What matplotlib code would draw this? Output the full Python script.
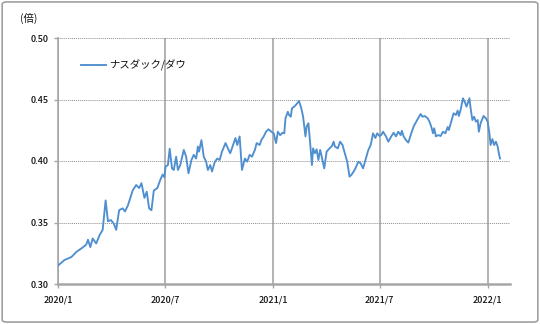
import matplotlib
matplotlib.use("Agg")
import matplotlib.pyplot as plt
from matplotlib.patches import FancyBboxPatch
import pandas as pd

plt.rcParams["font.family"] = ["Noto Sans CJK JP", "DejaVu Sans"]

SERIES_NAME = "ナスダック/ダウ"
UNIT_LABEL = "(倍)"

dates = [
    "2020-01-01", "2020-01-12", "2020-01-24", "2020-02-01", "2020-02-10", "2020-02-18",
    "2020-02-21", "2020-02-25", "2020-02-29", "2020-03-06", "2020-03-12", "2020-03-17",
    "2020-03-22", "2020-03-26", "2020-03-31", "2020-04-05", "2020-04-09", "2020-04-14",
    "2020-04-20", "2020-04-24", "2020-04-29", "2020-05-07", "2020-05-13", "2020-05-18",
    "2020-05-22", "2020-05-27", "2020-05-31", "2020-06-04", "2020-06-08", "2020-06-12",
    "2020-06-18", "2020-06-23", "2020-06-27", "2020-06-30", "2020-07-02", "2020-07-06",
    "2020-07-09", "2020-07-13", "2020-07-16", "2020-07-20", "2020-07-23", "2020-07-27",
    "2020-08-02", "2020-08-06", "2020-08-10", "2020-08-15", "2020-08-19", "2020-08-23",
    "2020-08-26", "2020-08-28", "2020-09-01", "2020-09-05", "2020-09-09", "2020-09-12",
    "2020-09-16", "2020-09-19", "2020-09-24", "2020-09-28", "2020-10-02", "2020-10-06",
    "2020-10-12", "2020-10-16", "2020-10-20", "2020-10-24", "2020-10-29", "2020-11-01",
    "2020-11-05", "2020-11-09", "2020-11-14", "2020-11-18", "2020-11-22", "2020-11-26",
    "2020-12-01", "2020-12-04", "2020-12-09", "2020-12-12", "2020-12-16", "2020-12-20",
    "2020-12-24", "2020-12-29", "2021-01-02", "2021-01-06", "2021-01-09", "2021-01-13",
    "2021-01-17", "2021-01-20", "2021-01-22", "2021-01-26", "2021-01-28", "2021-01-31",
    "2021-02-02", "2021-02-07", "2021-02-10", "2021-02-14", "2021-02-18", "2021-02-21",
    "2021-02-25", "2021-02-27", "2021-03-02", "2021-03-05", "2021-03-08", "2021-03-10",
    "2021-03-13", "2021-03-16", "2021-03-19", "2021-03-22", "2021-03-24", "2021-03-29",
    "2021-04-02", "2021-04-07", "2021-04-11", "2021-04-14", "2021-04-16", "2021-04-21",
    "2021-04-25", "2021-04-29", "2021-05-03", "2021-05-07", "2021-05-11", "2021-05-14",
    "2021-05-18", "2021-05-21", "2021-05-26", "2021-05-30", "2021-06-03", "2021-06-07",
    "2021-06-12", "2021-06-16", "2021-06-20", "2021-06-24", "2021-06-27", "2021-07-01",
    "2021-07-04", "2021-07-07", "2021-07-12", "2021-07-16", "2021-07-21", "2021-07-25",
    "2021-07-29", "2021-08-02", "2021-08-06", "2021-08-08", "2021-08-11", "2021-08-15",
    "2021-08-19", "2021-08-24", "2021-08-28", "2021-09-03", "2021-09-09", "2021-09-12",
    "2021-09-16", "2021-09-21", "2021-09-24", "2021-09-27", "2021-09-30", "2021-10-02",
    "2021-10-05", "2021-10-09", "2021-10-13", "2021-10-17", "2021-10-21", "2021-10-25",
    "2021-10-27", "2021-10-31", "2021-11-04", "2021-11-08", "2021-11-11", "2021-11-13",
    "2021-11-16", "2021-11-20", "2021-11-24", "2021-11-26", "2021-12-01", "2021-12-03",
    "2021-12-06", "2021-12-09", "2021-12-12", "2021-12-15", "2021-12-17", "2021-12-20",
    "2021-12-25", "2021-12-29", "2022-01-01", "2022-01-04", "2022-01-06", "2022-01-09",
    "2022-01-12", "2022-01-15", "2022-01-18", "2022-01-20", "2022-01-22",
]

ratio = [
    0.315, 0.3195, 0.322, 0.326, 0.329, 0.332,
    0.336, 0.330, 0.337, 0.333, 0.340, 0.344,
    0.368, 0.351, 0.352, 0.349, 0.344, 0.360,
    0.3615, 0.359, 0.364, 0.376, 0.3805, 0.378,
    0.382, 0.370, 0.375, 0.3615, 0.360, 0.376,
    0.378, 0.3846, 0.389, 0.3868, 0.3954, 0.3967,
    0.410, 0.394, 0.3927, 0.4035, 0.3927, 0.3967,
    0.409, 0.4035, 0.390, 0.4008, 0.405, 0.402,
    0.4118, 0.4076, 0.417, 0.4035, 0.3995, 0.3927,
    0.3967, 0.3915, 0.3995, 0.402, 0.4008, 0.4076,
    0.4146, 0.4103, 0.4063, 0.4118, 0.4187, 0.413,
    0.420, 0.3927, 0.402, 0.3995, 0.405, 0.4035,
    0.409, 0.4146, 0.413, 0.417, 0.420, 0.4238,
    0.4258, 0.4238, 0.4225, 0.4146, 0.4238, 0.421,
    0.423, 0.4225, 0.4347, 0.440, 0.4374, 0.436,
    0.4428, 0.4447, 0.4463, 0.4488, 0.4428, 0.436,
    0.420, 0.428, 0.4307, 0.4146, 0.3967, 0.4103,
    0.4063, 0.4095, 0.4008, 0.409, 0.405, 0.394,
    0.4076, 0.4103, 0.4122, 0.4157, 0.4118, 0.4103,
    0.4157, 0.413, 0.4063, 0.3995, 0.3873, 0.3886,
    0.3914, 0.394, 0.3995, 0.398, 0.394, 0.4008,
    0.409, 0.413, 0.4225, 0.4187, 0.4225, 0.4203,
    0.4211, 0.4238, 0.420, 0.4157, 0.420, 0.423,
    0.420, 0.4238, 0.421, 0.4246, 0.420, 0.417,
    0.415, 0.4225, 0.428, 0.4333, 0.4382, 0.436,
    0.4366, 0.4347, 0.432, 0.428, 0.4225, 0.4266,
    0.420, 0.4211, 0.4203, 0.4238, 0.4225, 0.4276,
    0.4252, 0.432, 0.4388, 0.4374, 0.441, 0.4366,
    0.4415, 0.451, 0.4469, 0.4442, 0.451, 0.4428,
    0.4333, 0.436, 0.432, 0.4333, 0.4238, 0.4307,
    0.4366, 0.4347, 0.432, 0.4225, 0.413, 0.4178,
    0.413, 0.4157, 0.4118, 0.4063, 0.402,
]

x_ticks = ["2020-01-01", "2020-07-01", "2021-01-01", "2021-07-01", "2022-01-01"]
x_tick_labels = ["2020/1", "2020/7", "2021/1", "2021/7", "2022/1"]
y_ticks = [0.30, 0.35, 0.40, 0.45, 0.50]

GRID_GREY = "#a6a6a6"
LINE_BLUE = "#4f8fd0"
TEXT = "#111111"

fig = plt.figure(figsize=(5.4, 3.24), dpi=100)
ax = fig.add_axes([58 / 540, 1 - 284 / 324, 452 / 540, 246 / 324])

ax.plot(pd.to_datetime(dates), ratio, color=LINE_BLUE, linewidth=1.35,
        label=SERIES_NAME, zorder=3)

ax.set_ylim(0.30, 0.50)
ax.set_yticks(y_ticks)
ax.set_yticklabels([f"{v:.2f}" for v in y_ticks])
ax.set_xlim(pd.Timestamp("2020-01-01"), pd.Timestamp("2022-02-08"))
ax.set_xticks(pd.to_datetime(x_ticks))
ax.set_xticklabels(x_tick_labels)

# horizontal dotted, vertical solid grid like the spreadsheet chart
ax.yaxis.grid(True, linestyle=(0, (1, 1)), color="#8c8c8c", linewidth=0.7)
ax.xaxis.grid(True, linestyle="-", color=GRID_GREY, linewidth=1.2)
ax.set_axisbelow(True)

for side in ("top", "right"):
    ax.spines[side].set_visible(False)
ax.spines["left"].set_color(GRID_GREY)
ax.spines["left"].set_linewidth(1.2)
ax.spines["bottom"].set_color(GRID_GREY)
ax.spines["bottom"].set_linewidth(1.8)
ax.tick_params(axis="both", colors=GRID_GREY, labelcolor=TEXT,
               labelsize=6.5, length=3, width=1)
ax.tick_params(axis="x", pad=5)
for lbl in ax.get_xticklabels() + ax.get_yticklabels():
    lbl.set_fontweight("medium")

fig.text(20 / 540, 1 - 18 / 324, UNIT_LABEL, fontsize=7.5, va="center",
         ha="left", color=TEXT)

leg = ax.legend(loc="upper left", bbox_to_anchor=(0.03, 0.95), frameon=False,
                fontsize=7.5, handlelength=2.4, handletextpad=0.3)
for t in leg.get_texts():
    t.set_color(TEXT)

frame = FancyBboxPatch((0.004, 0.006), 0.992, 0.988, boxstyle="round,pad=0,rounding_size=0.008",
                       transform=fig.transFigure, fill=False, edgecolor="#a0a0a0",
                       linewidth=1.2)
fig.patches.append(frame)

fig.savefig("out.png", dpi=100)
